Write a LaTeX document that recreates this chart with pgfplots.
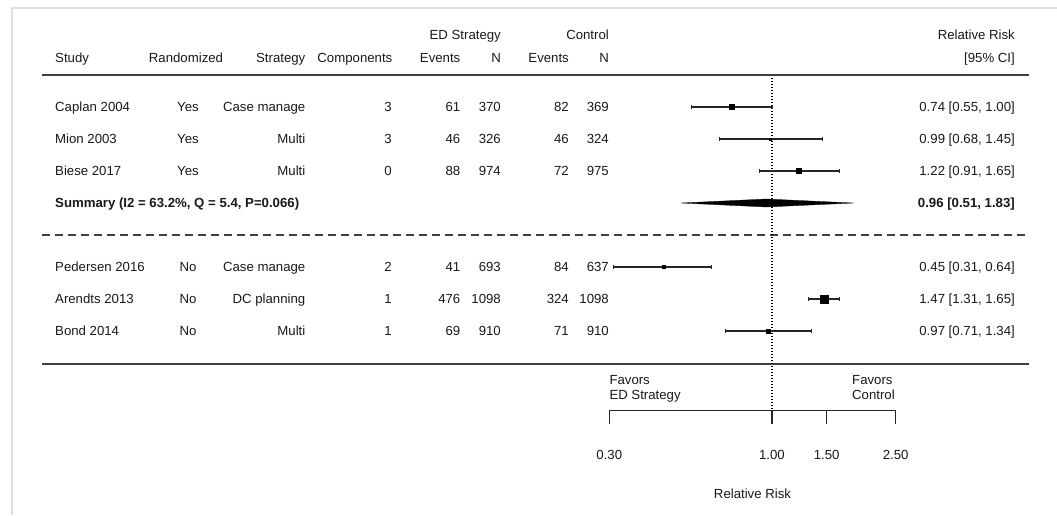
\documentclass[border=0pt]{standalone}
\usepackage{fontspec}
\setmainfont{Liberation Sans}
\usepackage{pgfplots}
\pgfplotsset{compat=1.18}
\newcommand\ff{\fontsize{13.2}{15.8}\selectfont}
% left part of a table row: baseline y, study, randomized, strategy, components
\newcommand\rowL[5]{%
  \node[anchor=base west] at (axis cs:55,#1) {#2};
  \node[anchor=base] at (axis cs:188,#1) {#3};
  \node[anchor=base east] at (axis cs:305.5,#1) {#4};
  \node[anchor=base east] at (axis cs:392,#1) {#5};
}
% right part: baseline y, ED events, ED N, control events, control N, RR text
\newcommand\rowR[6]{%
  \node[anchor=base east] at (axis cs:460.5,#1) {#2};
  \node[anchor=base east] at (axis cs:501,#1) {#3};
  \node[anchor=base east] at (axis cs:569,#1) {#4};
  \node[anchor=base east] at (axis cs:609,#1) {#5};
  \node[anchor=base east] at (axis cs:1015,#1) {#6};
}
\begin{document}
\begin{tikzpicture}[every node/.style={font=\ff, inner sep=0pt, text=black!90}]
\useasboundingbox (0,0) rectangle (1057pt,515pt);
% ---------- table layer (pixel coordinates) ----------
\begin{axis}[at={(0pt,0pt)}, anchor=south west, width=1057pt, height=515pt,
  scale only axis, xmin=0, xmax=1057, ymin=0, ymax=515, y dir=reverse,
  hide axis, clip=false]
\addplot[gray!25, line width=2pt] coordinates {(12,515) (12,8) (1057,8)};
\addplot[black!75, line width=2pt] coordinates {(41.5,75) (1029,75)};
\addplot[black!75, line width=1.3pt, dash pattern=on 8pt off 5pt] coordinates {(41.5,235) (1029,235)};
\addplot[black!75, line width=1.3pt] coordinates {(41.5,364) (1029,364)};
% headers
\node[anchor=base east] at (axis cs:501,39.7) {ED Strategy};
\node[anchor=base east] at (axis cs:609,39.7) {Control};
\node[anchor=base east] at (axis cs:1015,39.7) {Relative Risk};
\node[anchor=base west] at (axis cs:55,62.7) {Study};
\node[anchor=base] at (axis cs:186,62.7) {Randomized};
\node[anchor=base east] at (axis cs:305.5,62.7) {Strategy};
\node[anchor=base east] at (axis cs:392.5,62.7) {Components};
\rowR{62.7}{Events}{N}{Events}{N}{[95\% CI]}
% rows
\rowL{111.7}{Caplan 2004}{Yes}{Case manage}{3}
\rowR{111.7}{61}{370}{82}{369}{0.74 [0.55, 1.00]}
\rowL{143.7}{Mion 2003}{Yes}{Multi}{3}
\rowR{143.7}{46}{326}{46}{324}{0.99 [0.68, 1.45]}
\rowL{175.7}{Biese 2017}{Yes}{Multi}{0}
\rowR{175.7}{88}{974}{72}{975}{1.22 [0.91, 1.65]}
\node[anchor=base west, font=\ff\bfseries] at (axis cs:55,207.7) {Summary (I2 = 63.2\%, Q = 5.4, P=0.066)};
\node[anchor=base east, font=\ff\bfseries] at (axis cs:1015,207.7) {0.96 [0.51, 1.83]};
\rowL{271.7}{Pedersen 2016}{No}{Case manage}{2}
\rowR{271.7}{41}{693}{84}{637}{0.45 [0.31, 0.64]}
\rowL{303.7}{Arendts 2013}{No}{DC planning}{1}
\rowR{303.7}{476}{1098}{324}{1098}{1.47 [1.31, 1.65]}
\rowL{335.7}{Bond 2014}{No}{Multi}{1}
\rowR{335.7}{69}{910}{71}{910}{0.97 [0.71, 1.34]}
% favors
\node[anchor=base west] at (axis cs:609.3,384) {Favors};
\node[anchor=base west] at (axis cs:609.3,399.7) {ED Strategy};
\node[anchor=base west] at (axis cs:852,384) {Favors};
\node[anchor=base west] at (axis cs:852,399.7) {Control};
\end{axis}
% ---------- forest layer (log x) ----------
\begin{axis}[at={(609.3pt,104.3pt)}, anchor=south west, width=286.4pt, height=410.7pt,
  scale only axis, xmode=log, xmin=0.3, xmax=2.5, ymin=-410.7, ymax=0,
  axis x line*=bottom, axis y line=none, x axis line style={-, black!85, line width=1.3pt},
  xtick={0.3,1,1.5,2.5}, xticklabels={0.30,1.00,1.50,2.50}, minor xtick={},
  tick align=outside, major tick length=13.3pt,
  xtick style={black!85, line width=1.3pt},
  xticklabel style={font=\ff, yshift=-26pt},
  xlabel={Relative Risk},
  xlabel style={at={(axis description cs:0.5,0)}, anchor=base, yshift=-88pt, font=\ff},
  clip=false]
\addplot[black, line width=1.3pt, dash pattern=on 1.3pt off 1.7pt] coordinates {(1,-78) (1,-410.7)};
% confidence intervals
\addplot[black!85, line width=1.2pt, mark=|, mark size=2.2pt, mark options={solid}] coordinates {(0.55,-107) (1.00,-107)};
\addplot[black!85, line width=1.2pt, mark=|, mark size=2.2pt, mark options={solid}] coordinates {(0.68,-139) (1.45,-139)};
\addplot[black!85, line width=1.2pt, mark=|, mark size=2.2pt, mark options={solid}] coordinates {(0.91,-171) (1.65,-171)};
\addplot[black!85, line width=1.2pt, mark=|, mark size=2.2pt, mark options={solid}] coordinates {(0.31,-267) (0.64,-267)};
\addplot[black!85, line width=1.2pt, mark=|, mark size=2.2pt, mark options={solid}] coordinates {(1.31,-299) (1.65,-299)};
\addplot[black!85, line width=1.2pt, mark=|, mark size=2.2pt, mark options={solid}] coordinates {(0.71,-331) (1.34,-331)};
% point estimates
\addplot[only marks, mark=square*, mark size=2.5pt, black] coordinates {(0.74,-107)};
\addplot[only marks, mark=square*, mark size=1pt, black] coordinates {(0.99,-139)};
\addplot[only marks, mark=square*, mark size=2.5pt, black] coordinates {(1.22,-171)};
\addplot[only marks, mark=square*, mark size=1.5pt, black] coordinates {(0.45,-267)};
\addplot[only marks, mark=square*, mark size=4pt, black] coordinates {(1.47,-299)};
\addplot[only marks, mark=square*, mark size=2pt, black] coordinates {(0.97,-331)};
% summary diamond
\addplot[fill=black, draw=black, line width=0.3pt] coordinates {(0.51,-203) (0.96,-199) (1.83,-203) (0.96,-207)} -- cycle;
\end{axis}
\end{tikzpicture}
\end{document}
